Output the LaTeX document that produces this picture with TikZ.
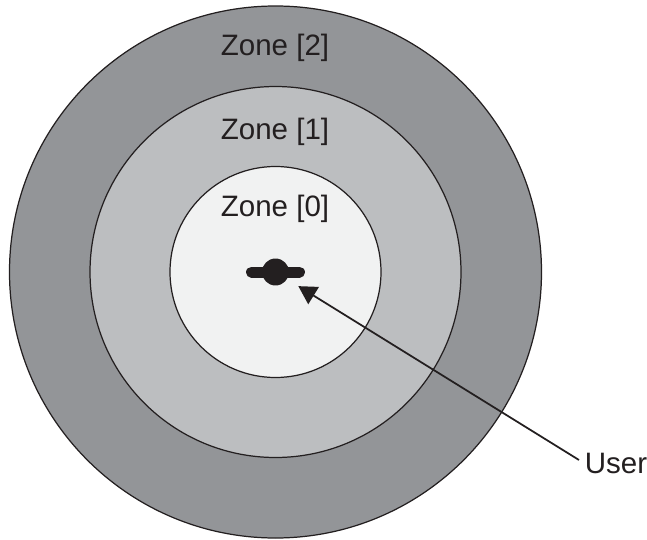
\documentclass[tikz,border=0pt]{standalone}
\usepackage{fontspec}
\setmainfont{Liberation Sans}
\usetikzlibrary{arrows.meta}
\definecolor{zonedark}{HTML}{939598}
\definecolor{zonemid}{HTML}{BCBEC0}
\definecolor{zonelight}{HTML}{F1F2F2}
\definecolor{inkblack}{HTML}{231F20}
\tikzset{zone/.style={draw=inkblack,line width=0.7pt},
  zonelabel/.style={anchor=base,inner sep=0pt,text=inkblack,font=\fontsize{16.8}{20}\selectfont}}
\begin{document}
\begin{tikzpicture}[x=0.02cm,y=0.02cm]
\useasboundingbox (0,0) rectangle (647,539);

\filldraw[zone,fill=zonedark] (275.5,267) circle (266);
\filldraw[zone,fill=zonemid] (275.5,267) circle (185.5);
\filldraw[zone,fill=zonelight] (275.5,267) circle (105.5);

\node[zonelabel] (zonetwo) at (275,484) {Zone [2]};
\node[zonelabel] (zoneone) at (275,400) {Zone [1]};
\node[zonelabel] (zonezero) at (275,323) {Zone [0]};
\node[zonelabel,anchor=base west] (lbluser) at (584.5,66) {User};

% user symbol
\node[circle,fill=inkblack,inner sep=0pt,minimum size=0.54cm] (user) at (275.5,267) {};
\draw[inkblack,line width=0.22cm,line cap=round] (251.5,267) -- (299.5,267);

\coordinate (userend) at (579,79);
\draw[inkblack,line width=1pt,-{Triangle[length=0.36cm,width=0.4cm]},shorten >=0.26cm] (userend) -- (user);
\end{tikzpicture}
\end{document}
